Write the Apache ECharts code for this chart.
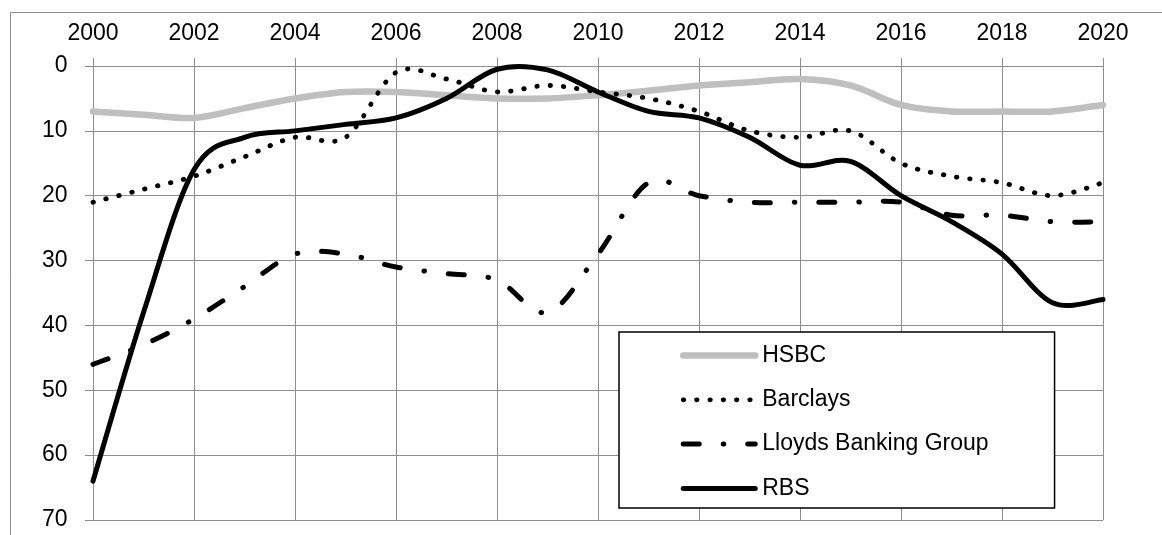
<!DOCTYPE html>
<html>
<head>
<meta charset="utf-8">
<script src="https://cdn.jsdelivr.net/npm/echarts@6/dist/echarts.min.js"></script>
<style>
html,body{margin:0;padding:0;background:#fff;}
#chart{width:1162px;height:535px;}
</style>
</head>
<body>
<div id="chart"></div>
<script>
const years = ['2000','2001','2002','2003','2004','2005','2006','2007','2008','2009','2010','2011','2012','2013','2014','2015','2016','2017','2018','2019','2020'];
const hsbc     = [7, 7.5, 8, 6.5, 5, 4, 4, 4.5, 5, 5, 4.5, 3.8, 3, 2.5, 2, 3, 6, 7, 7, 7, 6];
const barclays = [21, 19, 17, 14, 11, 11, 1, 2, 4, 3, 4, 5, 7, 10, 11, 10, 15, 17, 18, 20, 18];
const lloyds   = [46, 43, 39, 34, 29, 29, 31, 32, 33, 38, 29, 18, 20, 21, 21, 21, 21, 23, 23, 24, 24];
const rbs      = [64, 38, 16, 11, 10, 9, 8, 5, 0.5, 0.6, 4, 7, 8, 11, 15.3, 14.7, 20, 24, 29, 36.5, 36];
const seriesNames = ['HSBC', 'Barclays', 'Lloyds Banking Group', 'RBS'];
const yTicks = [0, 10, 20, 30, 40, 50, 60, 70];

const FONT = 'Liberation Sans';
const gridColor = '#8e8e8e';

const styles = {
  'HSBC': { color: '#bfbfbf', width: 6.5, type: 'solid', cap: 'round' },
  'Barclays': { color: '#000', width: 4.8, type: [0.5, 12.8], cap: 'round' },
  'Lloyds Banking Group': { color: '#000', width: 5, type: [16, 24, 0.5, 24], cap: 'round' },
  'RBS': { color: '#000', width: 5, type: 'solid', cap: 'round' }
};
const valuesByName = { 'HSBC': hsbc, 'Barclays': barclays, 'Lloyds Banking Group': lloyds, 'RBS': rbs };

// Smoothed (Catmull-Rom style Bezier) curve through the data points, positioned by the axes.
function makeRenderItem(name) {
  const st = styles[name];
  return function (params, api) {
    if (params.dataIndex !== 0) return null;
    const n = params.dataInsideLength != null ? valuesByName[name].length : valuesByName[name].length;
    const pts = [];
    for (let j = 0; j < n; j++) {
      pts.push(api.coord([j, api.value(1, j)]));
    }
    let d = 'M' + pts[0][0] + ',' + pts[0][1];
    for (let i = 0; i < n - 1; i++) {
      const p0 = pts[Math.max(i - 1, 0)], p1 = pts[i], p2 = pts[i + 1], p3 = pts[Math.min(i + 2, n - 1)];
      const c1x = p1[0] + (p2[0] - p0[0]) / 6, c1y = p1[1] + (p2[1] - p0[1]) / 6;
      const c2x = p2[0] - (p3[0] - p1[0]) / 6, c2y = p2[1] - (p3[1] - p1[1]) / 6;
      d += ' C' + c1x + ',' + c1y + ' ' + c2x + ',' + c2y + ' ' + p2[0] + ',' + p2[1];
    }
    return {
      type: 'path',
      shape: { pathData: d },
      style: {
        fill: null, stroke: st.color, lineWidth: st.width,
        lineDash: Array.isArray(st.type) ? st.type : null,
        lineCap: st.cap, lineJoin: 'round'
      },
      silent: true
    };
  };
}

const legendSeries = seriesNames.map(name => ({
  name, type: 'line', data: [], symbol: 'none',
  lineStyle: { color: styles[name].color, width: styles[name].width, type: styles[name].type, cap: styles[name].cap },
  itemStyle: { color: styles[name].color }
}));
const zOrder = { 'HSBC': 2, 'Barclays': 3, 'Lloyds Banking Group': 3, 'RBS': 4 };
const curveSeries = seriesNames.map(name => ({
  name, type: 'custom', z: zOrder[name],
  data: valuesByName[name].map((v, i) => [i, v]),
  encode: { x: 0, y: 1 },
  renderItem: makeRenderItem(name)
}));

const chart = echarts.init(document.getElementById('chart'));
chart.setOption({
  animation: false,
  backgroundColor: '#fff',
  graphic: [{
    type: 'rect', silent: true, z: -10,
    shape: { x: 10.5, y: 12.5, width: 1300, height: 700 },
    style: { fill: 'none', stroke: gridColor, lineWidth: 1 }
  }],
  grid: { left: 93, right: 59, top: 66, bottom: 15, containLabel: false },
  legend: {
    orient: 'vertical',
    left: 619, top: 332,
    padding: [12, 66, 8, 61],
    itemWidth: 72, itemHeight: 26, itemGap: 21.3,
    backgroundColor: '#fff',
    borderColor: '#000', borderWidth: 1.5, borderRadius: 0,
    textStyle: { fontFamily: FONT, fontSize: 23, color: '#000', padding: [0, 0, 0, 2] },
    lineStyle: { width: 'inherit' },
    itemStyle: { color: 'rgba(0,0,0,0)', borderWidth: 0, opacity: 0 },
    data: seriesNames
  },
  xAxis: {
    type: 'category',
    position: 'top',
    boundaryGap: false,
    data: years,
    axisLine: { show: true, lineStyle: { color: gridColor, width: 1 } },
    axisTick: { show: true, interval: 1, length: 8, lineStyle: { color: gridColor, width: 1 } },
    axisLabel: { interval: 1, margin: 21, fontFamily: FONT, fontSize: 23, color: '#000' },
    splitLine: { show: true, interval: 1, lineStyle: { color: gridColor, width: 1 } }
  },
  yAxis: {
    type: 'value',
    inverse: true,
    min: yTicks[0], max: yTicks[yTicks.length - 1], interval: 10,
    axisLine: { show: true, lineStyle: { color: gridColor, width: 1 } },
    axisTick: { show: true, length: 8, lineStyle: { color: gridColor, width: 1 } },
    axisLabel: { margin: 25.5, fontFamily: FONT, fontSize: 23, color: '#000' },
    splitLine: { show: true, lineStyle: { color: gridColor, width: 1 } }
  },
  series: legendSeries.concat(curveSeries)
});
</script>
</body>
</html>
